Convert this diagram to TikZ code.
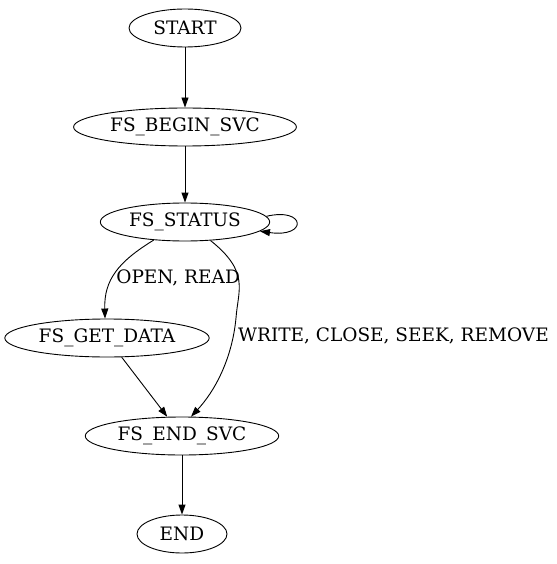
\documentclass[tikz,border=0pt]{standalone}
\usepackage{fontspec}
\setmainfont{DejaVu Serif}
\usetikzlibrary{shapes.geometric,arrows.meta}

\tikzset{
  state/.style={draw, ellipse, minimum height=38pt, inner xsep=4pt, inner ysep=0pt, font=\fontsize{18.5}{20}\selectfont},
  edge/.style={-{Triangle[length=10pt,width=7pt]}, line width=0.9pt},
  lbl/.style={font=\fontsize{18.5}{20}\selectfont}
}

\begin{document}
\begin{tikzpicture}[x=1pt, y=-1pt, line width=0.9pt]
\useasboundingbox (0,0) rectangle (556,564);

\node[state, minimum width=112pt] (start) at (185,28) {START};
\node[state] (begin) at (185,127) {FS\_BEGIN\_SVC};
\node[state] (status) at (185,222) {FS\_STATUS};
\node[state] (getdata) at (107,338) {FS\_GET\_DATA};
\node[state] (endsvc) at (182,436) {FS\_END\_SVC};
\node[state, minimum width=90pt] (end) at (182,534) {END};

\draw[edge] (start) -- (begin);
\draw[edge] (begin) -- (status);
\draw[edge] (status.4) .. controls (306,207) and (308,238) .. (status.-7);
\draw[edge] (status.-150) .. controls (118,262) and (104,280) .. (getdata.north -| 105,0)
  node[lbl, pos=0.57, anchor=west, xshift=0pt] {OPEN, READ};
\draw[edge] (status.-36) .. controls (250,272) and (238,290) .. (236,318)
  .. controls (232,360) and (214,392) .. (endsvc.65)
  node[lbl, pos=0.15, anchor=west, xshift=1pt] {WRITE, CLOSE, SEEK, REMOVE};
\draw[edge] (getdata) -- (endsvc);
\draw[edge] (endsvc) -- (end);
\end{tikzpicture}
\end{document}
